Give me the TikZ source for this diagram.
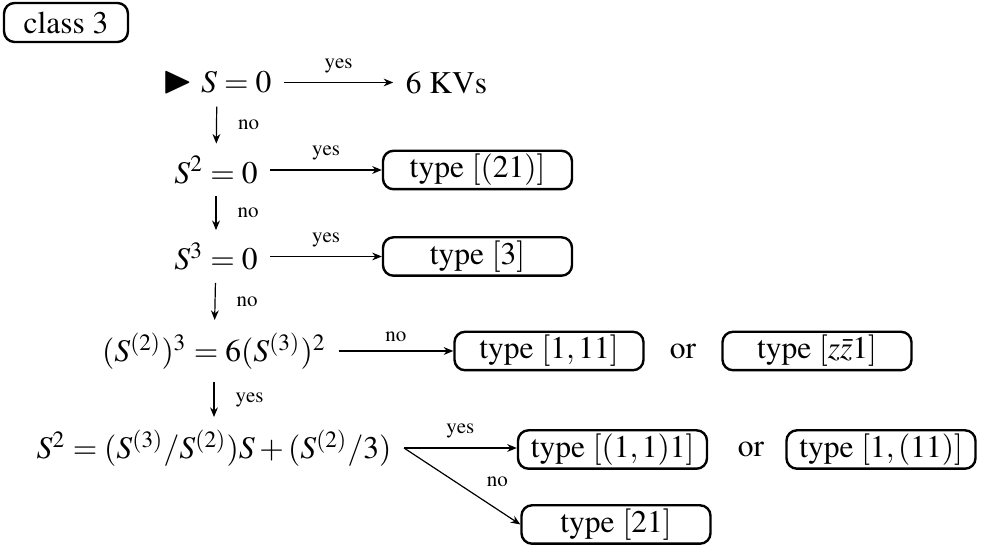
\documentclass[tikz,border=0pt]{standalone}
\usepackage[T1]{fontenc}
\usepackage{mathptmx}
\usepackage{amssymb}
\usepackage{graphicx}
\usetikzlibrary{arrows.meta}
\tikzset{
  felt/.style={inner sep=4pt},
  tipus/.style={draw,thick,rounded corners=3.5pt,minimum width=63pt,minimum height=12.8pt,inner xsep=2pt,inner ysep=1pt},
  osztaly/.style={draw,thick,rounded corners=3.5pt,minimum width=41.3pt,minimum height=13pt,inner sep=1pt},
  ny/.style={-{Stealth[length=3.2pt,width=2.6pt]}},
  cimke/.style={font=\fontsize{7}{8.4}\selectfont,inner sep=3pt},
}
\begin{document}
\begin{tikzpicture}[x=0.3333pt,y=-0.3333pt,font=\fontsize{10.5}{12.6}\selectfont]
  \useasboundingbox (0,0) rectangle (981,548);
  \node[osztaly] (cl) at (66,22.5) {class 3};
  % bal oszlop: feltetelek
  \node[felt] (s1) at (217,82.5) {\scalebox{1.25}{$\blacktriangleright$}\ $S=0$};
  \node[felt] (s2) at (216,170) {$S^2=0$};
  \node[felt] (s3) at (216,256.5) {$S^3=0$};
  \node[felt] (s4) at (214,351) {$(S^{(2)})^3=6(S^{(3)})^2$};
  \node[felt] (s5) at (214,448) {$S^2=(S^{(3)}/S^{(2)})S+(S^{(2)}/3)$};
  % jobb oldal: tipusok
  \node[felt] (kv) at (446.5,82.5) {6 KVs};
  \node[tipus] (t21z) at (477.5,170) {type $[(21)]$};
  \node[tipus] (t3) at (477.5,256.5) {type $[3]$};
  \node[tipus] (t111) at (549,351) {type $[1,11]$};
  \node (or1) at (683,351) {or};
  \node[tipus] (tzz) at (817,351) {type $[z\bar{z}1]$};
  \node[tipus] (t111z) at (612.5,449.5) {type $[(1,1)1]$};
  \node (or2) at (751,449.5) {or};
  \node[tipus] (t1z11) at (881,449.5) {type $[1,(11)]$};
  \node[tipus] (t21) at (616,524.5) {type $[21]$};
  % nyilak
  \draw[ny] (s1) -- node[cimke,above] {yes} (kv);
  \draw[ny] (s2) -- node[cimke,above] {yes} (t21z);
  \draw[ny] (s3) -- node[cimke,above] {yes} (t3);
  \draw[ny] (s4) -- node[cimke,above] {no} (t111);
  \draw[ny] (s5.east) -- node[cimke,above] {yes} (t111z.west |- s5.east);
  \draw[ny] (s5.east) -- node[cimke,pos=.63,above right] {no} (t21.west);
  \draw[ny] (s1) -- node[cimke,right=4pt] {no} (s2);
  \draw[ny] (s2) -- node[cimke,right=4pt] {no} (s3);
  \draw[ny] (s3) -- node[cimke,right=4pt] {no} (s4);
  \draw[ny] (s4) -- node[cimke,right=4pt] {yes} (s5);
\end{tikzpicture}
\end{document}
